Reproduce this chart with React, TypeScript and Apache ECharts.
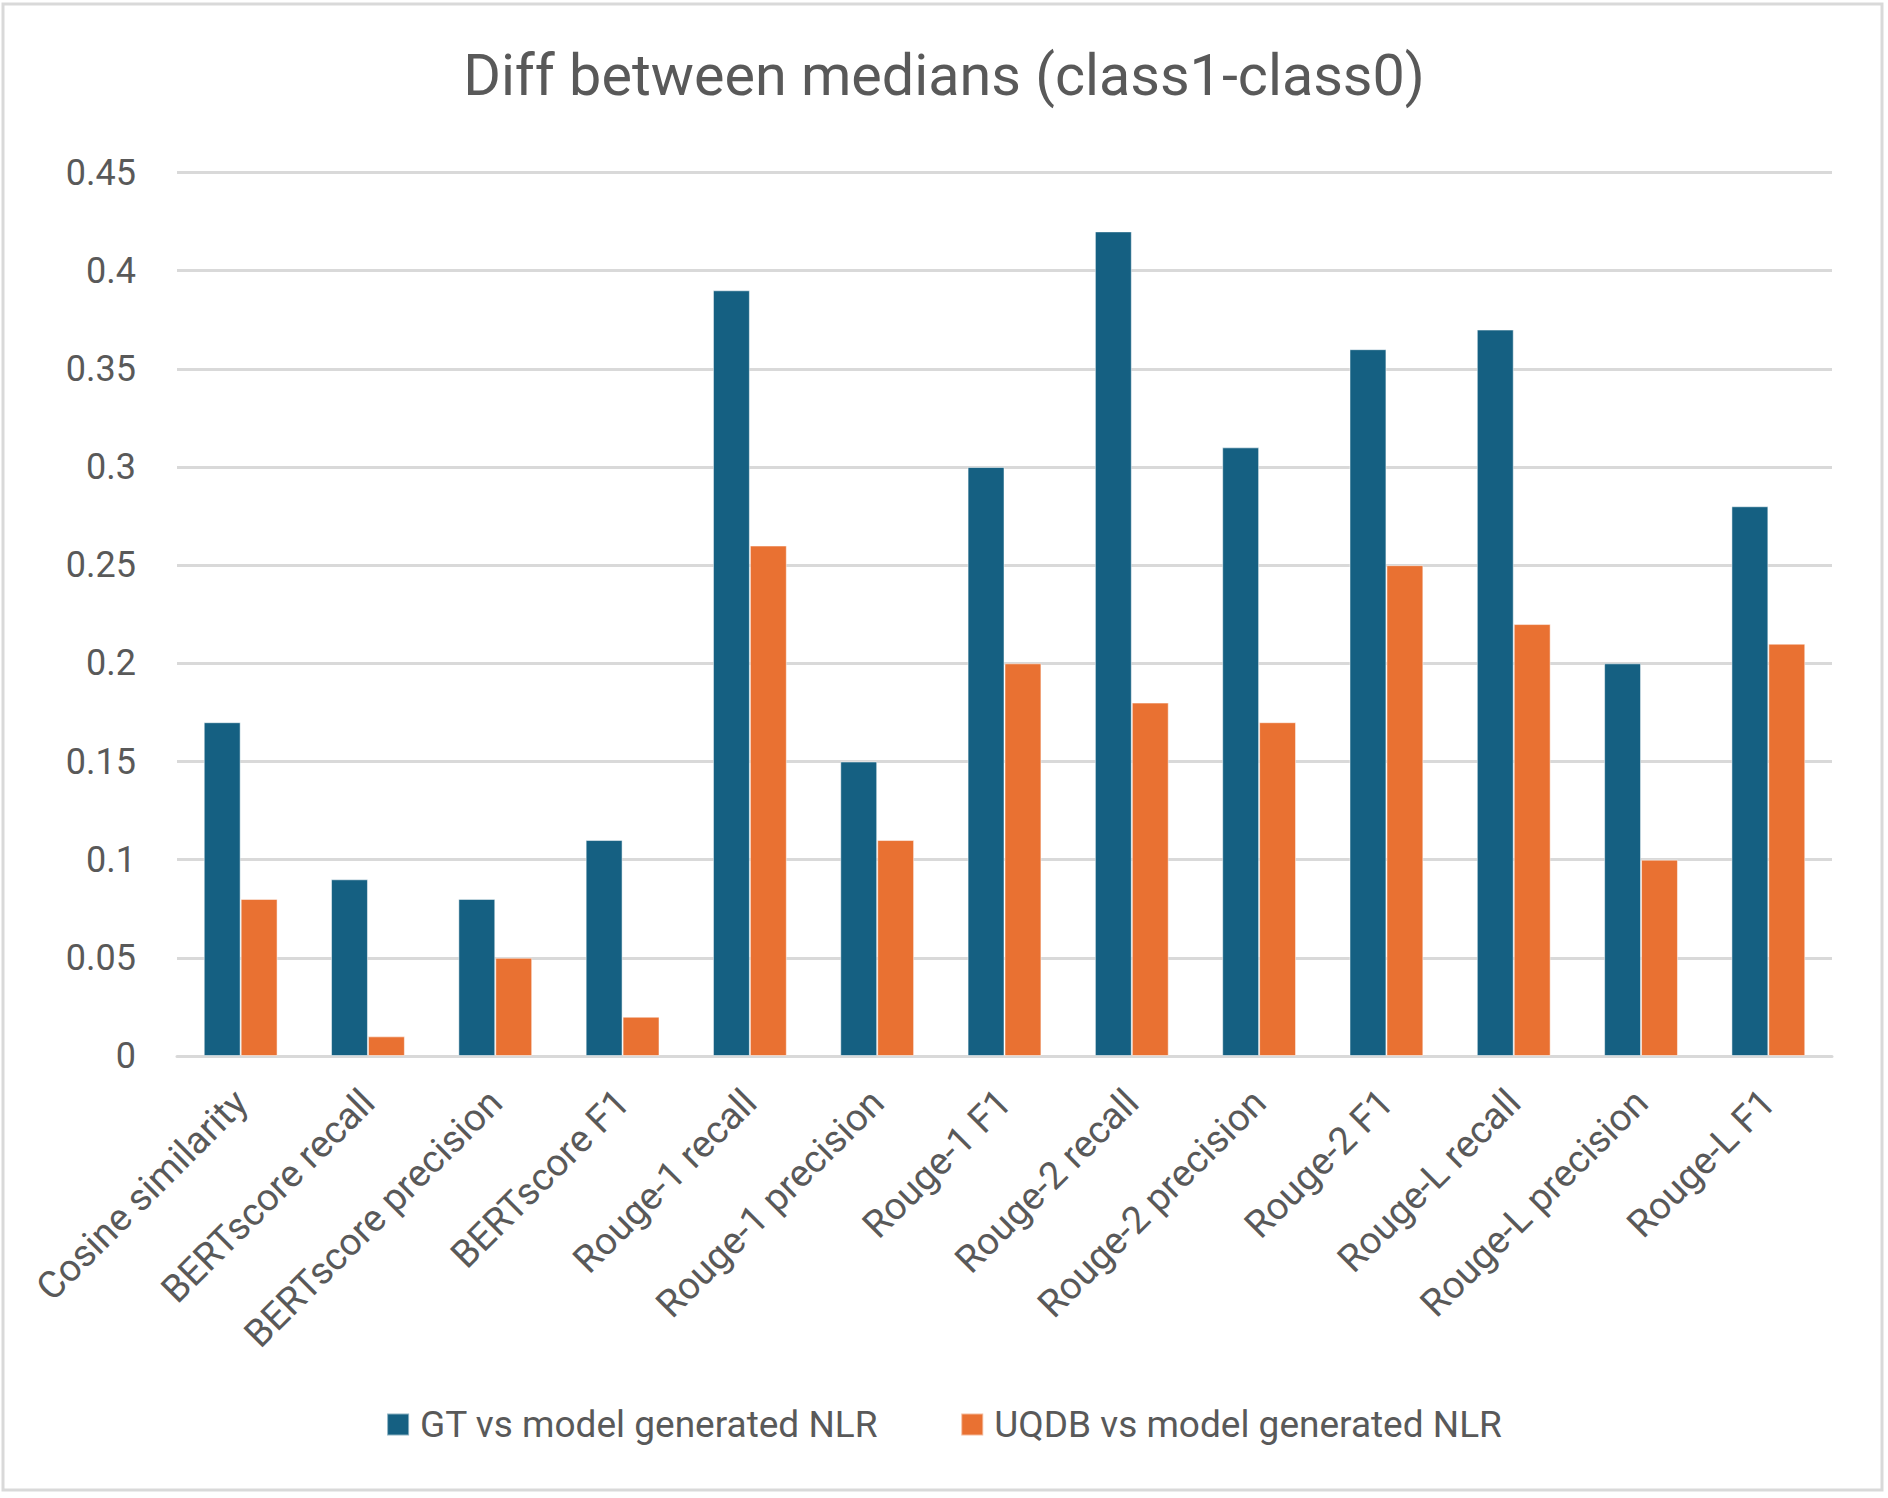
import React, { useEffect, useRef } from "react";
import * as echarts from "echarts";

const categories = [
  "Cosine similarity",
  "BERTscore recall",
  "BERTscore precision",
  "BERTscore F1",
  "Rouge-1 recall",
  "Rouge-1 precision",
  "Rouge-1 F1",
  "Rouge-2 recall",
  "Rouge-2 precision",
  "Rouge-2 F1",
  "Rouge-L recall",
  "Rouge-L precision",
  "Rouge-L F1",
];
const gtValues = [0.17, 0.09, 0.08, 0.11, 0.39, 0.15, 0.3, 0.42, 0.31, 0.36, 0.37, 0.2, 0.28];
const uqdbValues = [0.08, 0.01, 0.05, 0.02, 0.26, 0.11, 0.2, 0.18, 0.17, 0.25, 0.22, 0.1, 0.21];
const seriesNames = ["GT vs model generated NLR", "UQDB vs model generated NLR"];
const titleText = "Diff between medians (class1-class0)";

const FONT = "Roboto, 'Noto Sans', sans-serif";
const TEXT = "#595959";
const GRID = "#d9d9d9";

export default function App() {
  const ref = useRef<HTMLDivElement>(null);
  useEffect(() => {
    document.body.style.margin = "0";
    const chart = echarts.init(ref.current!, null, { renderer: "svg" });
    chart.setOption({
      animation: false,
      backgroundColor: "#ffffff",
      title: {
        text: titleText,
        left: "center",
        top: 41,
        textStyle: { fontFamily: FONT, fontSize: 57.5, fontWeight: "normal", color: TEXT },
      },
      graphic: [
        {
          type: "rect",
          shape: { x: 3, y: 4, width: 1879, height: 1486 },
          style: { fill: "none", stroke: GRID, lineWidth: 3 },
        },
      ],
      legend: {
        bottom: 50,
        left: "center",
        itemWidth: 22,
        itemHeight: 22,
        itemGap: 82,
        icon: "rect",
        textStyle: { fontFamily: FONT, fontSize: 37, color: TEXT, padding: [0, 0, 0, 6] },
        data: seriesNames,
      },
      grid: { left: 177, right: 56, top: 172.5, bottom: 442, containLabel: false },
      xAxis: {
        type: "category",
        data: categories,
        axisLine: { lineStyle: { color: GRID, width: 3 } },
        axisTick: { show: false },
        axisLabel: {
          rotate: 45,
          interval: 0,
          margin: 40,
          fontFamily: FONT,
          fontSize: 38,
          color: TEXT,
        },
      },
      yAxis: {
        type: "value",
        min: 0,
        max: 0.45,
        interval: 0.05,
        axisLine: { show: false },
        axisTick: { show: false },
        splitLine: { lineStyle: { color: GRID, width: 3 } },
        axisLabel: {
          margin: 41,
          fontFamily: FONT,
          fontSize: 36,
          color: TEXT,
          formatter: (v: number) => String(parseFloat(v.toFixed(2))),
        },
      },
      series: [
        {
          name: seriesNames[0],
          type: "bar",
          data: gtValues,
          barWidth: "29%",
          barGap: "0%",
          itemStyle: { color: "#156082", borderColor: "rgba(255,255,255,0.5)", borderWidth: 1 },
        },
        {
          name: seriesNames[1],
          type: "bar",
          data: uqdbValues,
          barWidth: "29%",
          barGap: "0%",
          itemStyle: { color: "#E97132", borderColor: "rgba(255,255,255,0.5)", borderWidth: 1 },
        },
      ],
    });
    return () => chart.dispose();
  }, []);
  return <div ref={ref} style={{ width: 1888, height: 1498 }} />;
}
